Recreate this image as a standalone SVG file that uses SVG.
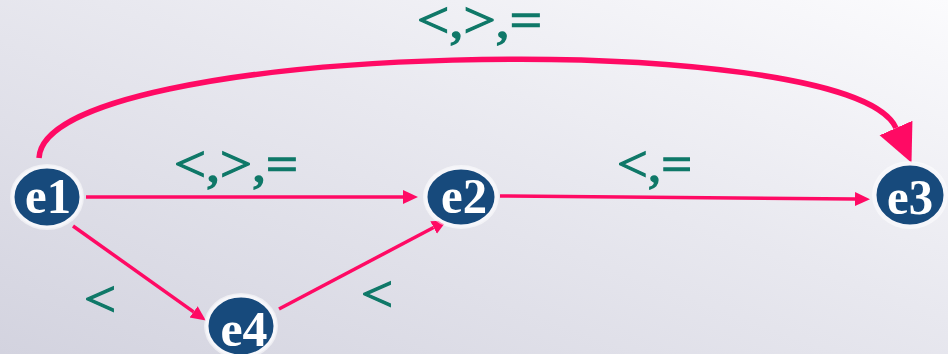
<svg xmlns="http://www.w3.org/2000/svg" width="948" height="354" viewBox="0 0 948 354">
<defs>
<linearGradient id="bg" x1="0" y1="1" x2="1" y2="0">
<stop offset="0" stop-color="#d3d3df"/>
<stop offset="0.55" stop-color="#e8e8ef"/>
<stop offset="1" stop-color="#fbfbfd"/>
</linearGradient>
<marker id="ah" markerUnits="userSpaceOnUse" markerWidth="16" markerHeight="16" viewBox="0 -8 16 16" refX="0" refY="0" orient="auto">
<path d="M0,-7 L15,0 L0,7 z" fill="#ff0a64"/>
</marker>
<marker id="ahBig" markerUnits="userSpaceOnUse" markerWidth="42" markerHeight="42" viewBox="0 -21 42 42" refX="0" refY="0" orient="auto">
<path d="M0,-18 L38,0 L0,18 z" fill="#ff0a64"/>
</marker>
</defs>
<style>
.edge{fill:none;stroke:#ff0a64;stroke-width:3.5}
.big{stroke-width:5.5}
.halo{fill:#ffffff;opacity:0.55}
.node{fill:#174a7c;stroke:#f6f6fa;stroke-width:3}
.nt{font-family:"Liberation Serif",serif;font-weight:bold;font-size:50px;fill:#ffffff;text-anchor:middle}
.lbl{font-family:"Liberation Serif",serif;font-size:50px;fill:#0f7868;stroke:#0f7868;stroke-width:1.3}
</style>
<rect width="948" height="354" fill="url(#bg)"/>
<g id="connectors">
<path class="edge big" d="M39,158 C45,40 850,25 896,128" marker-end="url(#ahBig)"/>
<line class="edge" x1="86" y1="197" x2="403" y2="197" marker-end="url(#ah)"/>
<line class="edge" x1="500" y1="196" x2="855" y2="199" marker-end="url(#ah)"/>
<line class="edge" x1="73" y1="226" x2="193.6" y2="311.9" marker-end="url(#ah)"/>
<line class="edge" x1="279" y1="309" x2="433.6" y2="227.5" marker-end="url(#ah)"/>
</g>
<g id="labels">
<text class="lbl" x="417" y="37" font-size="44" textLength="125" lengthAdjust="spacingAndGlyphs">&lt;,&gt;,=</text>
<text class="lbl" x="174" y="181" textLength="124" lengthAdjust="spacingAndGlyphs">&lt;,&gt;,=</text>
<text class="lbl" x="617" y="181" textLength="75" lengthAdjust="spacingAndGlyphs">&lt;,=</text>
<text class="lbl" x="84" y="316" textLength="32" lengthAdjust="spacingAndGlyphs">&lt;</text>
<text class="lbl" x="361" y="311" textLength="32" lengthAdjust="spacingAndGlyphs">&lt;</text>
</g>
<g id="e1">
<ellipse class="halo" cx="47" cy="197" rx="37" ry="33"/>
<ellipse class="node" cx="47" cy="197" rx="34" ry="30"/>
<text class="nt" x="48" y="213" textLength="46" lengthAdjust="spacingAndGlyphs">e1</text>
</g>
<g id="e2">
<ellipse class="halo" cx="461" cy="197" rx="38" ry="32"/>
<ellipse class="node" cx="461" cy="197" rx="35" ry="29"/>
<text class="nt" x="464" y="213" textLength="46" lengthAdjust="spacingAndGlyphs">e2</text>
</g>
<g id="e3">
<ellipse class="halo" cx="910" cy="195" rx="38" ry="34"/>
<ellipse class="node" cx="910" cy="195" rx="35" ry="31"/>
<text class="nt" x="910" y="214" textLength="46" lengthAdjust="spacingAndGlyphs">e3</text>
</g>
<g id="e4">
<ellipse class="halo" cx="241" cy="326" rx="37" ry="33"/>
<ellipse class="node" cx="241" cy="326" rx="34" ry="30"/>
<text class="nt" x="244" y="346" textLength="47" lengthAdjust="spacingAndGlyphs">e4</text>
</g>
</svg>
